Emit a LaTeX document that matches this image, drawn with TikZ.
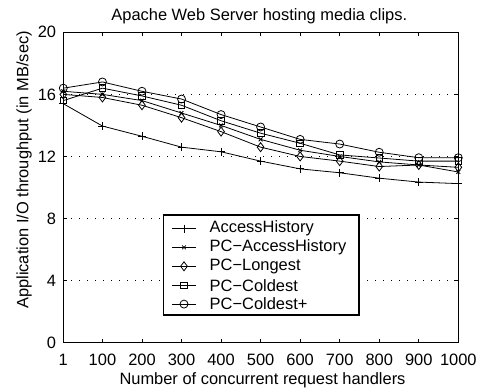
\documentclass[tikz,border=0pt]{standalone}
\usepackage{fontspec}
\setmainfont{Liberation Sans}
\usetikzlibrary{plotmarks}

\begin{document}
\begin{tikzpicture}[x=1bp,y=1bp,
  lbl/.style={font=\fontsize{16.5}{18}\selectfont,inner sep=0pt},
  serie/.style={line width=0.8bp,mark options={solid,line width=0.8bp}},
  ah/.style={serie,mark=+,mark size=4bp},
  pcah/.style={serie,mark=x,mark size=2.7bp},
  pclong/.style={serie,mark=diamond,mark size=4.5bp},
  pccold/.style={serie,mark=square,mark size=3.3bp},
  pccoldp/.style={serie,mark=o,mark size=4bp}]
  \useasboundingbox (0,0) rectangle (480,391);
  \node[lbl] (title) at (259.3,375) {Apache Web Server hosting media clips.};
  \node[lbl,rotate=90] (ylab) at (24,221) {Application I/O throughput (in MB/sec)};
  \node[lbl] (xlab) at (262.5,10.5) {Number of concurrent request handlers};
  \begin{scope}[shift={(62.9,48.3)},x=0.3954bp,y=15.52bp]
    \foreach \v in {4,8,12,16}
      \draw[line width=0.6bp,dash pattern=on 0.8bp off 7.2bp] (1,\v) -- (1000,\v);
    \foreach \v in {0,4,...,20} {
      \node[lbl,anchor=east] (yt\v) at ([xshift=-7bp]1,\v) {\v};
      \draw[line width=0.8bp] (1,\v) -- ++(4bp,0) (1000,\v) -- ++(-4bp,0);
    }
    \foreach \v in {1,100,200,...,1000} {
      \node[lbl] (xt\v) at ([yshift=-17.3bp]\v,0) {\v};
      \draw[line width=0.8bp] (\v,0) -- ++(0,4bp) (\v,20) -- ++(0,-4bp);
    }
    \draw[line width=1.3bp] (1,0) rectangle (1000,20);
    \draw[ah] plot coordinates {(1,15.4) (100,13.96) (200,13.3) (300,12.6) (400,12.3) (500,11.7)
      (600,11.2) (700,10.95) (800,10.6) (900,10.35) (1000,10.25)};
    \draw[pcah] plot coordinates {(1,16.2) (100,16.0) (200,15.6) (300,14.8) (400,14.0) (500,13.1)
      (600,12.4) (700,12.0) (800,11.65) (900,11.45) (1000,11.0)};
    \draw[pclong] plot coordinates {(1,16.0) (100,15.8) (200,15.3) (300,14.5) (400,13.6) (500,12.6)
      (600,12.0) (700,11.7) (800,11.35) (900,11.45) (1000,11.3)};
    \draw[pccold] plot coordinates {(1,15.6) (100,16.4) (200,15.9) (300,15.3) (400,14.3) (500,13.5)
      (600,12.85) (700,12.1) (800,11.9) (900,11.7) (1000,11.7)};
    \draw[pccoldp] plot coordinates {(1,16.4) (100,16.8) (200,16.2) (300,15.7) (400,14.7) (500,13.9)
      (600,13.1) (700,12.8) (800,12.27) (900,11.92) (1000,11.92)};
  \end{scope}
  \draw[line width=1.2bp,fill=white] (163.3,76) rectangle (359,176);
  \foreach \s/\t [count=\i from 0] in {ah/AccessHistory,pcah/PC−AccessHistory,
      pclong/PC−Longest,pccold/PC−Coldest,pccoldp/PC−Coldest+} {
    \pgfmathsetmacro\ly{162.5-18.9*\i}
    \coordinate (la\i) at (172,\ly);
    \coordinate (lb\i) at (196,\ly);
    \draw[serie] (la\i) -- (lb\i);
    \path[\s] plot coordinates {(184,\ly)};
    \node[lbl,anchor=west] (lg\i) at (209.5,\ly) {\t};
  }
\end{tikzpicture}
\end{document}
